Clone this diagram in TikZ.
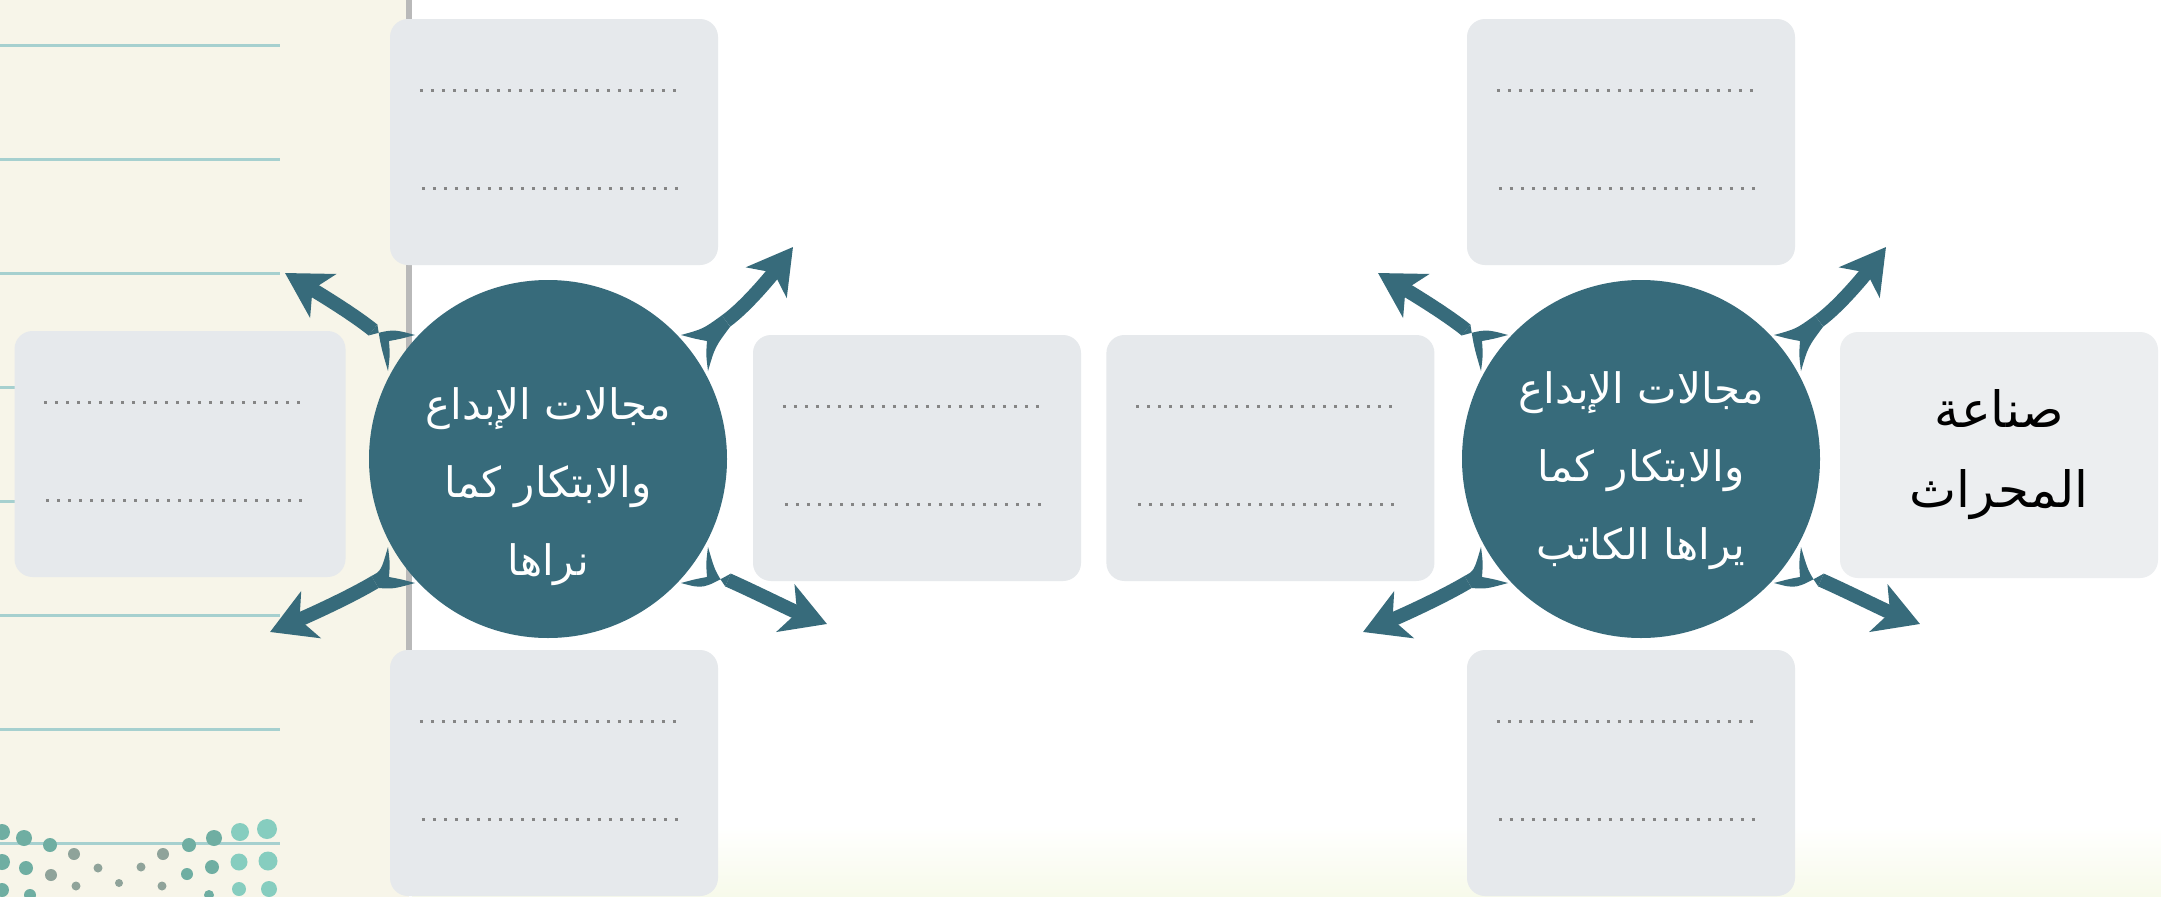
\documentclass[tikz,border=0pt]{standalone}
\usepackage{fontspec}
\newfontfamily\arabicfont[Script=Arabic]{DejaVu Sans}
\TeXXeTstate=1
\usetikzlibrary{arrows.meta, positioning, calc}

\definecolor{ideateal}{HTML}{376B7B}
\definecolor{boxgray}{HTML}{E6E9EC}
\definecolor{labelgray}{HTML}{ECEEF0}
\definecolor{cream}{HTML}{F7F5E9}
\definecolor{ruleteal}{HTML}{A6D0CF}
\definecolor{dotgray}{HTML}{858585}
\definecolor{bandtint}{HTML}{F7FAEA}
\definecolor{dl}{HTML}{6FAEA2}
\definecolor{dm}{HTML}{8FA39A}
\definecolor{dr}{HTML}{86CDBF}

\begin{document}
\begin{tikzpicture}[x=1pt, y=-1pt,
    box/.style={fill=boxgray, rounded corners=18pt, minimum width=328pt,
      minimum height=246pt, inner sep=0pt},
    idea/.style={circle, fill=ideateal, minimum size=358pt, inner sep=0pt},
    ideatext/.style={text=white, align=center,
      font=\arabicfont\fontsize{42}{78}\selectfont},
    dotrow/.style={draw=dotgray, line width=2.8pt, dash pattern=on 2.8pt off 8.2pt},
    burst/.style={draw=ideateal, line width=14pt,
      -{Stealth[length=44pt, width=50pt, inset=12pt]}},
  ]
  \useasboundingbox (0,0) rectangle (2161,897);
  \fill[white] (0,0) rectangle (2161,897);

  % notebook strip on the left
  \fill[cream] (0,0) rectangle (409,897);
  \foreach \y in {45,159,273,387,501,615,729,843}
    \draw[ruleteal, line width=3pt] (0,\y) -- (280,\y);
  \foreach \x/\y/\r/\col in {2/832/8/dl, 24/838/8/dl, 50/845/7/dl, 74/854/6/dm,
      98/868/4.5/dm, 141/867/4.5/dm, 163/854/6/dm, 189/845/7/dl, 214/838/8/dl,
      240/832/9/dr, 267/829/10/dr, 2/862/8/dl, 26/868/7/dl, 51/875/6/dm,
      76/886/4.5/dm, 119/883/4/dm, 162/886/4.5/dm, 187/874/6/dl, 212/867/7/dl,
      239/862/8.5/dr, 268/861/9.5/dr, 2/890/7/dl, 30/895/6/dl, 209/895/5/dl,
      239/889/7/dr, 269/889/8/dr}
    \fill[\col] (\x,\y) circle[radius=\r];
  \draw[gray!55, line width=6pt] (409,0) -- (409,650);
  \shade[top color=white, bottom color=bandtint] (412,825) rectangle (2161,897);

  % answer boxes
  \node[box] (t1) at (554,142) {};
  \node[box, minimum width=331pt] (l1) at (180,454) {};
  \node[box] (b1) at (554,773) {};
  \node[box] (m1) at (917,458) {};
  \node[box, right=25pt of m1] (m2) {};
  \node[box] (t2) at (1631,142) {};
  \node[box] (b2) at (1631,773) {};
  \node[box, fill=labelgray, minimum width=318pt, align=center,
    font=\arabicfont\fontsize{50}{80}\selectfont] (plough) at (1999,455)
    {\beginR صناعة\endR\\\beginR المحراث\endR};

  \foreach \b in {t1,l1,b1,m1,m2,t2,b2} {
    \draw[dotrow] ([xshift=30pt, yshift=-72pt]\b.north west) -- ([xshift=-38pt, yshift=-72pt]\b.north east);
    \draw[dotrow] ([xshift=32pt, yshift=-170pt]\b.north west) -- ([xshift=-38pt, yshift=-170pt]\b.north east);
  }

  % arrows bursting out of the circles
  \coordinate (c1) at (548,459);
  \coordinate (c2) at (1641,459);
  \foreach \c in {c1,c2}
    \foreach \mx/\my/\sx/\sy/\ax/\ay/\ex/\ey/\tx/\ty in {
        1/1/178/-138/200/-154/227/-188/245/-212,
        -1/1/175/-129/195/-145/228/-165/263/-186,
        1/-1/180/-121/205/-132/245/-152/279/-165,
        -1/-1/173/-123/198/-138/240/-157/278/-173} {
      \begin{scope}[shift={(\c)}, xscale=\mx, yscale=\my]
        \pgfmathsetmacro{\ang}{90*\mx*\my}
        \coordinate (n1) at ($(\sx,\sy)!7pt!\ang:(\ax,\ay)$);
        \coordinate (n2) at ($(\sx,\sy)!-7pt!\ang:(\ax,\ay)$);
        \fill[ideateal] (133,-124) .. controls (155,-130) .. (n1) -- (n2)
          .. controls (167,-112) .. (160,-88) .. controls (158,-104) .. (159,-118)
          .. controls (148,-120) .. cycle;
        \draw[burst] (\sx,\sy) .. controls (\ax,\ay) and (\ex,\ey) .. (\tx,\ty);
      \end{scope}
    }

  \node[idea] (idea1) at (c1) {};
  \node[idea] (idea2) at (c2) {};
  \node[ideatext] (say1) at ([yshift=-28pt]idea1.center)
    {\beginR مجالات الإبداع\endR\\\beginR والابتكار كما\endR\\\beginR نراها\endR};
  \node[ideatext] (say2) at ([yshift=-12pt]idea2.center)
    {\beginR مجالات الإبداع\endR\\\beginR والابتكار كما\endR\\\beginR يراها الكاتب\endR};
\end{tikzpicture}
\end{document}
